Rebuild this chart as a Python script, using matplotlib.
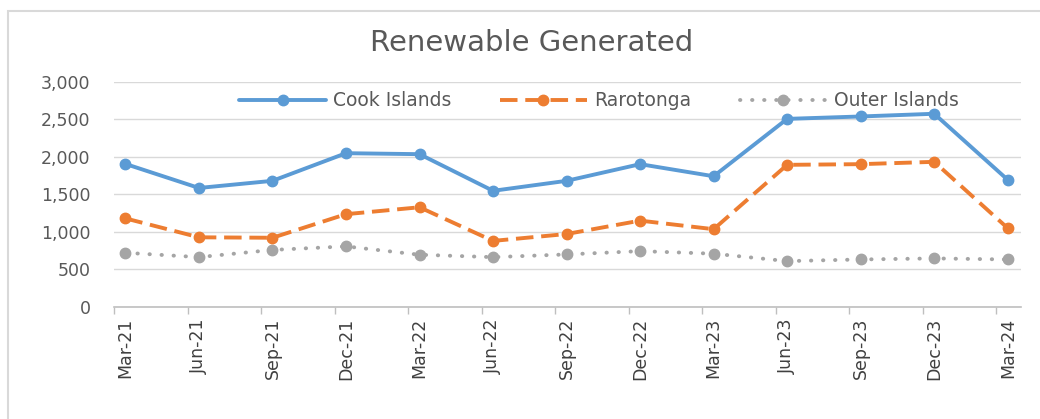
import matplotlib
matplotlib.use("Agg")
import matplotlib.pyplot as plt
from matplotlib.patches import Rectangle
import numpy as np

quarters = ["Mar-21", "Jun-21", "Sep-21", "Dec-21", "Mar-22", "Jun-22", "Sep-22",
            "Dec-22", "Mar-23", "Jun-23", "Sep-23", "Dec-23", "Mar-24"]
cook_islands = [1905, 1585, 1680, 2048, 2035, 1547, 1680, 1902, 1741, 2505, 2537, 2573, 1693]
rarotonga = [1180, 928, 922, 1236, 1328, 880, 972, 1150, 1036, 1893, 1902, 1933, 1049]
outer_islands = [722, 664, 760, 807, 696, 664, 700, 744, 710, 611, 633, 647, 633]

fig = plt.figure(figsize=(10.4, 4.19), dpi=100)
fig.patch.set_facecolor("white")
# chart border
fig.add_artist(Rectangle((8/1040, -0.05), 1.1, 1 - 11/419 + 0.05, transform=fig.transFigure,
                         fill=False, edgecolor="#D9D9D9", linewidth=1.5))

ax = fig.add_axes([114/1040, 1 - 307/419, (1021-114)/1040, (307-81.7)/419])
x = np.arange(len(quarters))

blue = "#5B9BD5"
orange = "#ED7D31"
gray = "#A5A5A5"

ax.plot(x, cook_islands, color=blue, lw=2.8, marker="o", ms=7.5, label="Cook Islands",
        solid_capstyle="round", zorder=5)
ax.plot(x, rarotonga, color=orange, lw=2.8, marker="o", ms=7.5, label="Rarotonga",
        linestyle=(0, (4.5, 2.0)), zorder=4)
ax.plot(x, outer_islands, color=gray, lw=2.8, marker="o", ms=7.5, label="Outer Islands",
        linestyle=(0, (0.1, 3.0)), dash_capstyle="round", zorder=3)

ax.set_ylim(0, 3000)
ax.set_xlim(-0.15, 12.18)
ax.set_yticks(np.arange(0, 3001, 500))
ax.set_yticklabels([f"{v:,}" for v in range(0, 3001, 500)], fontsize=12.5, color="#595959",
                   family="DejaVu Sans")
ax.grid(axis="y", color="#D9D9D9", lw=1)
ax.set_axisbelow(True)
ax.tick_params(axis="y", length=0, pad=17)

ax.set_xticks(x)
ax.set_xticklabels(quarters, rotation=90, fontsize=12.5, color="#404040",
                   family="DejaVu Sans")
ax.tick_params(axis="x", which="major", length=0, pad=8)
ax.set_xticks(x - 0.155, minor=True)
ax.tick_params(axis="x", which="minor", length=5, color="#BFBFBF", width=1)

for s in ["left", "right", "top"]:
    ax.spines[s].set_visible(False)
ax.spines["bottom"].set_color("#BFBFBF")
ax.spines["bottom"].set_linewidth(1.2)

fig.text(532/1040, 1 - 43/419, "Renewable Generated", ha="center", va="center",
         fontsize=21, color="#595959", family="DejaVu Sans")

leg = fig.legend(loc="center", bbox_to_anchor=(599/1040, 1 - 101/419), ncol=3, frameon=False,
                 handlelength=4.6, columnspacing=2.6, handletextpad=0.4,
                 labelcolor="#595959", prop={"family": "DejaVu Sans", "size": 13.5})

fig.savefig("out.png", dpi=100)
